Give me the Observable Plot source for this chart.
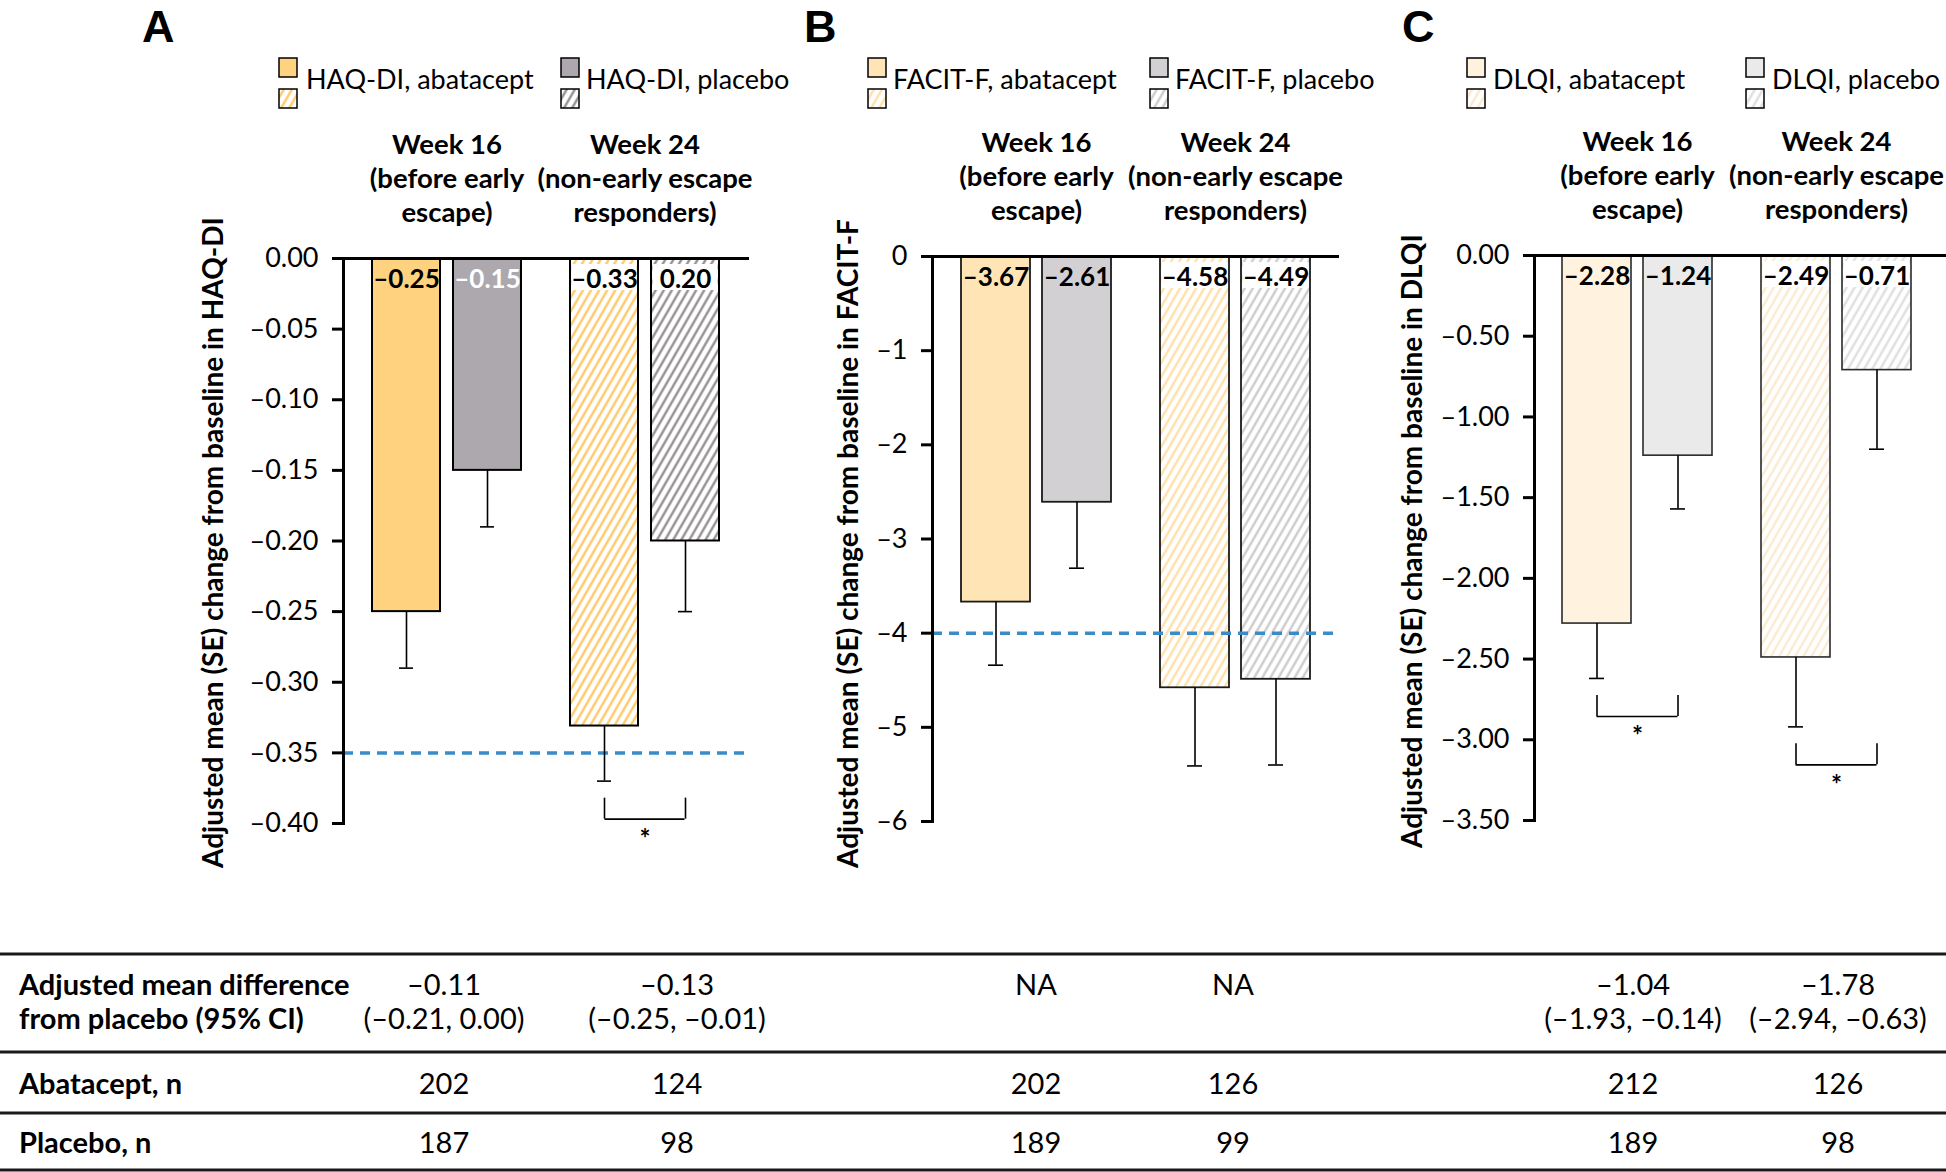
<!DOCTYPE html>
<html>
<head>
<meta charset="utf-8">
<script src="https://cdn.jsdelivr.net/npm/d3@7"></script>
<script src="https://cdn.jsdelivr.net/npm/@observablehq/plot@0.6"></script>
<style>
  body { margin: 0; background: #fff; }
  #root { position: relative; width: 1946px; height: 1172px; overflow: hidden; background: #fff; }
  .panel { position: absolute; }
  .panel svg { max-width: none !important; }
</style>
</head>
<body>
<div id="root"></div>
<script>
// ---------------- data ----------------
const weeks = ["Week 16", "Week 24"];
const weekHeaders = ["Week 16\n(before early\nescape)", "Week 24\n(non-early escape\nresponders)"];
const treatments = ["abatacept", "placebo"];
const measures = ["HAQ-DI", "FACIT-F", "DLQI"];

// order: Week 16 abatacept, Week 16 placebo, Week 24 abatacept, Week 24 placebo
const haqMeans = [-0.25, -0.15, -0.331, -0.20];
const haqLower = [-0.29, -0.19, -0.37, -0.25];
const haqLabels = ["–0.25", "–0.15", "–0.33", "0.20"];
const haqTicks = [0, -0.05, -0.10, -0.15, -0.20, -0.25, -0.30, -0.35, -0.40];
const haqMcid = [-0.35];
const haqSig = ["Week 24"];

const facitMeans = [-3.67, -2.61, -4.58, -4.49];
const facitLower = [-4.34, -3.31, -5.41, -5.40];
const facitLabels = ["–3.67", "–2.61", "–4.58", "–4.49"];
const facitTicks = [0, -1, -2, -3, -4, -5, -6];
const facitMcid = [-4];
const facitSig = [];

const dlqiMeans = [-2.28, -1.24, -2.49, -0.71];
const dlqiLower = [-2.62, -1.57, -2.92, -1.20];
const dlqiLabels = ["–2.28", "–1.24", "–2.49", "–0.71"];
const dlqiTicks = [0, -0.5, -1.0, -1.5, -2.0, -2.5, -3.0, -3.5];
const dlqiMcid = [];
const dlqiSig = ["Week 16", "Week 24"];

const tableRowHeads = [["Adjusted mean difference", "from placebo (95% CI)"], ["Abatacept, n"], ["Placebo, n"]];
const diffEst = ["–0.11", "–0.13", "NA", "NA", "–1.04", "–1.78"];
const diffCI = ["(–0.21, 0.00)", "(–0.25, –0.01)", "", "", "(–1.93, –0.14)", "(–2.94, –0.63)"];
const nAbatacept = ["202", "124", "202", "126", "212", "126"];
const nPlacebo = ["187", "98", "189", "99", "189", "98"];

// ---------------- styles / layout ----------------
const FONT = "Lato, 'Open Sans', sans-serif";
const MCID_BLUE = "#3a8cc7";
const BAR_W = 69, BAR_GAP = 12, PAIR_GAP = 49, CAP_W = 15;

const panels = [
  { key: "A", measure: measures[0], means: haqMeans, lowers: haqLower, labels: haqLabels, ticks: haqTicks, mcid: haqMcid, sig: haqSig,
    domain: [-0.40, 0], dec: 2, axisX: 343, zeroY: 258, plotW: 406, extendRight: 0,
    solid: { abatacept: "#ffd27f", placebo: "#ada8ad" }, hatch: { abatacept: "#ffc45a", placebo: "#8b868a" },
    barStroke: "#000", barStrokeWidth: 2, labelFill: ["#000", "#fff", "#000", "#000"],
    letterX: 142, legendX: [279, 561], legendTextX: [306, 586], titleX: 223, titleBottom: 868 },
  { key: "B", measure: measures[1], means: facitMeans, lowers: facitLower, labels: facitLabels, ticks: facitTicks, mcid: facitMcid, sig: facitSig,
    domain: [-6, 0], dec: 0, axisX: 932, zeroY: 256, plotW: 407, extendRight: 0,
    solid: { abatacept: "#ffe5b6", placebo: "#d3d0d4" }, hatch: { abatacept: "#ffdca2", placebo: "#c9c6ca" },
    barStroke: "#1a1a1a", barStrokeWidth: 1.8, labelFill: ["#000", "#000", "#000", "#000"],
    letterX: 804, legendX: [868, 1150], legendTextX: [893, 1175], titleX: 858, titleBottom: 868 },
  { key: "C", measure: measures[2], means: dlqiMeans, lowers: dlqiLower, labels: dlqiLabels, ticks: dlqiTicks, mcid: dlqiMcid, sig: dlqiSig,
    domain: [-3.5, 0], dec: 2, axisX: 1534, zeroY: 255, plotW: 404, extendRight: -12,
    solid: { abatacept: "#fff3e0", placebo: "#eaeaeb" }, hatch: { abatacept: "#fbe8cc", placebo: "#dcdcdd" },
    barStroke: "#2a2a2a", barStrokeWidth: 1.6, labelFill: ["#000", "#000", "#000", "#000"],
    letterX: 1402, legendX: [1467, 1746], legendTextX: [1493, 1772], titleX: 1422, titleBottom: 848 }
];

const root = document.getElementById("root");

// ---------------- hatch patterns ----------------
const defsSvg = d3.select(root).append("svg").attr("width", 0).attr("height", 0)
  .style("position", "absolute").style("left", 0).style("top", 0);
const defs = defsSvg.append("defs");
panels.forEach(p => {
  treatments.forEach(t => {
    const s = 7;
    const pat = defs.append("pattern").attr("id", `hatch-${p.key}-${t}`)
      .attr("patternUnits", "userSpaceOnUse").attr("width", s).attr("height", s)
      .attr("patternTransform", "rotate(30)");
    pat.append("rect").attr("width", s).attr("height", s).attr("fill", "#fff");
    pat.append("line").attr("x1", s / 2).attr("x2", s / 2).attr("y1", -1).attr("y2", s + 1)
      .attr("stroke", p.hatch[t]).attr("stroke-width", 2.2);
  });
});

function buildRows(p) {
  return weeks.flatMap((w, wi) => treatments.map((t, ti) => ({
    week: w, treatment: t,
    mean: p.means[wi * 2 + ti], lower: p.lowers[wi * 2 + ti],
    label: p.labels[wi * 2 + ti], labelFill: p.labelFill[wi * 2 + ti]
  })));
}

function fmt(dec) {
  return d => d === 0 ? (0).toFixed(dec) : (d < 0 ? "–" : "") + Math.abs(d).toFixed(dec);
}

// ---------------- panels ----------------
panels.forEach(p => {
  const mL = 130, mR = 14, mT = 160, mB = 80, H = 565;
  const pairW = 2 * BAR_W + BAR_GAP;
  const step = pairW + PAIR_GAP;
  const outer = (p.plotW - 2 * pairW - PAIR_GAP) / 2;
  const off = (BAR_W + BAR_GAP) / 2;
  const rows = buildRows(p);
  const fill = d => d.week === weeks[0] ? p.solid[d.treatment] : `url(#hatch-${p.key}-${d.treatment})`;
  const sigRows = p.sig.map(w => ({ week: w, level: d3.min(rows.filter(r => r.week === w), r => r.lower) }));

  const marks = [];
  treatments.forEach((t, ti) => {
    const sub = rows.filter(d => d.treatment === t);
    const inL = ti === 0 ? 0 : BAR_W + BAR_GAP;
    const inR = ti === 0 ? BAR_W + BAR_GAP : 0;
    marks.push(Plot.barY(sub, { x: "week", y1: () => 0, y2: "mean", fill, stroke: p.barStroke, strokeWidth: p.barStrokeWidth, insetLeft: inL, insetRight: inR }));
    marks.push(Plot.barY(sub.filter(d => d.week !== weeks[0]), { x: "week", y1: () => 0, y2: () => 0, insetTop: 6, insetBottom: -32, insetLeft: inL + 1.5, insetRight: inR + 1.5, fill: "white" }));
  });
  marks.push(Plot.ruleY(p.mcid, { stroke: MCID_BLUE, strokeWidth: 3.5, strokeDasharray: "10,7" }));
  treatments.forEach((t, ti) => {
    const sub = rows.filter(d => d.treatment === t);
    const sgn = ti === 0 ? -1 : 1;
    marks.push(Plot.ruleX(sub, { x: "week", y1: "mean", y2: "lower", dx: sgn * off, stroke: "#000", strokeWidth: 1.6 }));
    marks.push(Plot.tickY(sub, { x: "week", y: "lower", dx: sgn * off, insetLeft: (pairW - CAP_W) / 2, insetRight: (pairW - CAP_W) / 2, stroke: "#000", strokeWidth: 1.6 }));
    marks.push(Plot.text(sub, { x: "week", y: () => 0, text: "label", fill: "labelFill", dx: sgn * off, dy: 29, lineAnchor: "bottom", fontWeight: "bold", fontSize: 26 }));
    marks.push(Plot.ruleX(sigRows, { x: "week", y1: "level", y2: "level", insetTop: 17, insetBottom: -38, dx: sgn * off, stroke: "#000", strokeWidth: 1.6 }));
  });
  marks.push(Plot.tickY(sigRows, { x: "week", y: "level", dy: 38, insetLeft: BAR_W / 2, insetRight: BAR_W / 2, stroke: "#000", strokeWidth: 1.6 }));
  marks.push(Plot.text(sigRows, { x: "week", y: "level", text: () => "*", dy: 67, lineAnchor: "bottom", fontWeight: "bold", fontSize: 26 }));
  marks.push(Plot.text(weeks, { x: d => d, y: () => 0, text: (d, i) => weekHeaders[i], dy: -37, lineAnchor: "bottom", lineHeight: 1.22, fontWeight: "bold", fontSize: 27.5 }));
  marks.push(Plot.ruleY([0], { stroke: "#000", strokeWidth: 3, insetLeft: -11, insetRight: p.extendRight }));
  marks.push(Plot.frame({ anchor: "left", stroke: "#000", strokeWidth: 3 }));
  marks.push(Plot.axisY(p.ticks, { tickFormat: fmt(p.dec), tickSize: 11, tickPadding: 14, stroke: "#000", strokeWidth: 3, fontSize: 27, label: null }));

  const chart = Plot.plot({
    width: mL + p.plotW + mR, height: mT + H + mB,
    marginLeft: mL, marginRight: mR, marginTop: mT, marginBottom: mB,
    x: { domain: weeks, paddingInner: PAIR_GAP / step, paddingOuter: outer / step, axis: null },
    y: { domain: p.domain },
    color: { type: "identity" },
    style: { fontFamily: FONT, fontSize: "26px", color: "#000", background: "none", overflow: "visible" },
    marks
  });
  const div = document.createElement("div");
  div.className = "panel";
  div.style.left = (p.axisX - mL) + "px";
  div.style.top = (p.zeroY - mT) + "px";
  div.style.width = (mL + p.plotW + mR) + "px";
  div.appendChild(chart);
  root.appendChild(div);
});

// ---------------- overlay: letters, legends, axis titles, table ----------------
const ov = d3.select(root).append("svg").attr("width", 1946).attr("height", 1172)
  .style("position", "absolute").style("left", 0).style("top", 0).style("pointer-events", "none")
  .style("font-family", FONT);

panels.forEach(p => {
  ov.append("text").attr("x", p.letterX).attr("y", 42)
    .style("font-family", "'Liberation Sans', Arial, sans-serif").style("font-weight", "bold").style("font-size", "45px")
    .text(p.key);
  treatments.forEach((t, ti) => {
    const x = p.legendX[ti];
    ov.append("rect").attr("x", x).attr("y", 58).attr("width", 18).attr("height", 19)
      .attr("fill", p.solid[t]).attr("stroke", "#000").attr("stroke-width", 1.5);
    ov.append("rect").attr("x", x).attr("y", 89).attr("width", 18).attr("height", 19)
      .attr("fill", `url(#hatch-${p.key}-${t})`).attr("stroke", "#000").attr("stroke-width", 1.5);
    ov.append("text").attr("x", p.legendTextX[ti]).attr("y", 89).style("font-size", "27px")
      .text(`${p.measure}, ${t}`);
  });
  ov.append("text").attr("transform", `translate(${p.titleX},${p.titleBottom}) rotate(-90)`)
    .style("font-size", "28px").style("font-weight", "bold")
    .text(`Adjusted mean (SE) change from baseline in ${p.measure}`);
});

// table
[954, 1052, 1113, 1170].forEach(y => {
  ov.append("line").attr("x1", 0).attr("x2", 1946).attr("y1", y).attr("y2", y)
    .attr("stroke", "#1a1a1a").attr("stroke-width", 3);
});
const colX = [444, 677, 1036, 1233, 1633, 1838];
const headY = [[995, 1029], [1094], [1153]];
tableRowHeads.forEach((lines, r) => {
  lines.forEach((s, li) => {
    ov.append("text").attr("x", 19).attr("y", headY[r][li]).style("font-size", "29px").style("font-weight", "bold").text(s);
  });
});
const cell = (x, y, s) => ov.append("text").attr("x", x).attr("y", y).attr("text-anchor", "middle").style("font-size", "29px").text(s);
colX.forEach((x, i) => {
  cell(x, headY[0][0], diffEst[i]);
  if (diffCI[i]) cell(x, headY[0][1], diffCI[i]);
  cell(x, headY[1][0], nAbatacept[i]);
  cell(x, headY[2][0], nPlacebo[i]);
});
</script>
</body>
</html>
